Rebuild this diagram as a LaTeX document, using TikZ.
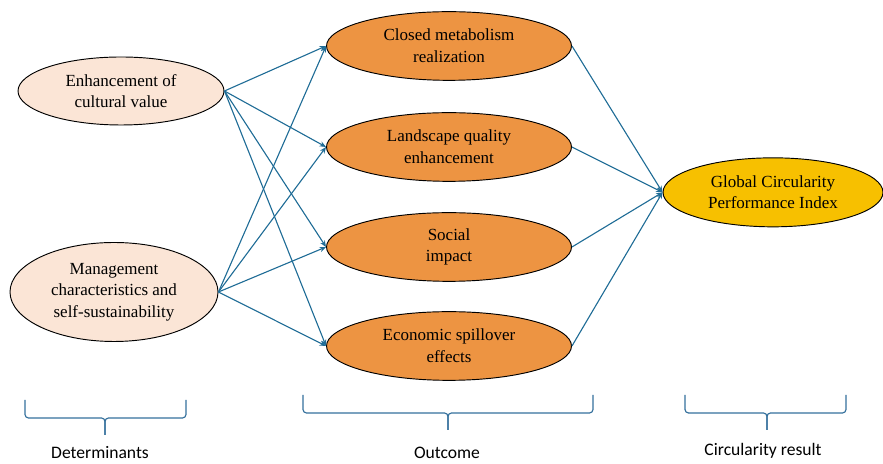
\documentclass[tikz,border=0pt]{standalone}
\usepackage{fontspec}
\setmainfont{Liberation Serif}
\newfontfamily\labelfont{Carlito}
\usepackage{xcolor}
\usetikzlibrary{arrows, arrows.meta, shapes.geometric}

\definecolor{peach}{RGB}{251,229,214}
\definecolor{orangefill}{RGB}{237,148,66}
\definecolor{goldfill}{RGB}{247,192,0}
\definecolor{linkblue}{RGB}{31,108,150}
\definecolor{braceblue}{RGB}{52,112,156}

\tikzset{
  oval/.style={ellipse, draw=black, line width=0.8pt, align=center, inner sep=0pt,
    font=\fontsize{14.5}{18.5}\selectfont},
  determinant/.style={oval, fill=peach},
  outcome/.style={oval, fill=orangefill, minimum width=7.35cm, minimum height=2.06cm},
  result/.style={oval, fill=goldfill, minimum width=6.6cm, minimum height=2.07cm},
  link/.style={draw=linkblue, line width=0.95pt, -{Stealth[length=5.5pt,width=4.5pt]}},
  bracket/.style={draw=braceblue, line width=1pt, rounded corners=3pt},
  caption/.style={font=\labelfont\fontsize{15}{18}\selectfont, anchor=base, inner sep=0pt}
}

\begin{document}
\begin{tikzpicture}
\useasboundingbox (0,0) rectangle (26.49,13.92);
% determinants
\node[determinant, minimum width=6.18cm, minimum height=2.04cm] (cult) at (3.63,11.19) {Enhancement of\\cultural value};
\node[determinant, minimum width=6.24cm, minimum height=2.97cm] (mgmt) at (3.42,5.16) {Management\\characteristics and\\self-sustainability};
% outcomes
\node[outcome] (meta) at (13.47,12.54) {Closed metabolism\\realization};
\node[outcome] (land) at (13.47,9.51) {Landscape quality\\enhancement};
\node[outcome] (soc)  at (13.47,6.51) {Social\\impact};
\node[outcome] (econ) at (13.47,3.54) {Economic spillover\\effects};
% result
\node[result] (gcpi) at (23.19,8.15) {Global Circularity\\Performance Index};

\foreach \src in {cult,mgmt}
  \foreach \dst in {meta,land,soc,econ}
    \draw[link] (\src.east) -- (\dst.west);
\foreach \dst in {meta,land,soc,econ}
  \draw[link] (\dst.east) -- (gcpi.west);

% braces
\draw[bracket] (0.75,1.92) -- (0.75,1.38) -- (3.15,1.38) -- (3.15,0.87);
\draw[bracket] (5.58,1.92) -- (5.58,1.38) -- (3.15,1.38) -- (3.15,0.87);
\draw[bracket] (9.09,2.07) -- (9.09,1.53) -- (13.44,1.53) -- (13.44,1.02);
\draw[bracket] (17.79,2.07) -- (17.79,1.53) -- (13.44,1.53) -- (13.44,1.02);
\draw[bracket] (20.55,2.07) -- (20.55,1.53) -- (23.01,1.53) -- (23.01,1.02);
\draw[bracket] (25.38,2.07) -- (25.38,1.53) -- (23.01,1.53) -- (23.01,1.02);
\node[caption] (detlbl) at (3.0,0.15) {Determinants};
\node[caption] (outlbl) at (13.41,0.15) {Outcome};
\node[caption] (reslbl) at (22.89,0.24) {Circularity result};
\end{tikzpicture}
\end{document}
